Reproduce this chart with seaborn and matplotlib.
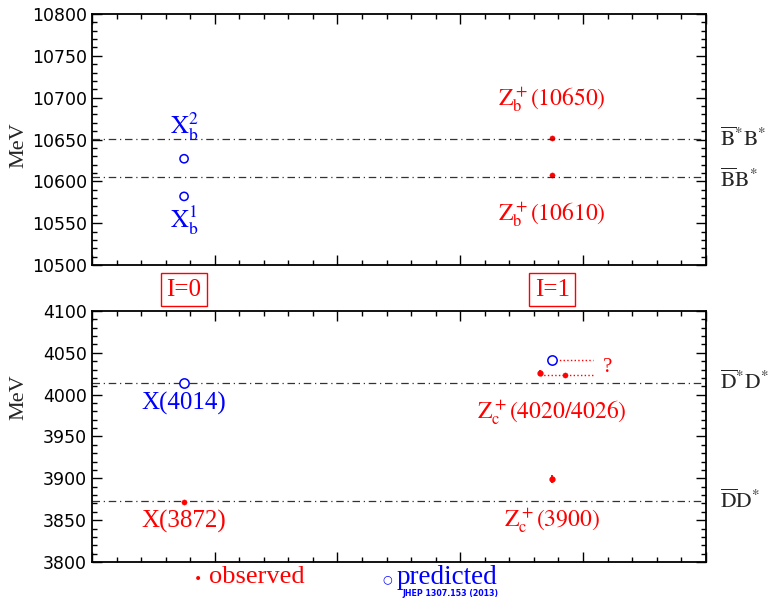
import seaborn as sns
import matplotlib.pyplot as plt
from matplotlib.ticker import MultipleLocator

# bottomonium-like sector (top panel)
b_thresholds = [10650.5, 10604.6]
b_thr_labels = [r'$\overline{\mathrm{B}}^{*}\mathrm{B}^{*}$', r'$\overline{\mathrm{B}}\mathrm{B}^{*}$']
b_pred_x = [0.75, 0.75]
b_pred_y = [10627, 10582]
b_obs_x = [3.75, 3.75]
b_obs_y = [10652, 10607.5]

# charmonium-like sector (bottom panel)
c_thresholds = [4014.3, 3872.5]
c_thr_labels = [r'$\overline{\mathrm{D}}^{*}\mathrm{D}^{*}$', r'$\overline{\mathrm{D}}\mathrm{D}^{*}$']
c_pred_x = [0.75, 3.75]
c_pred_y = [4014, 4041]
c_obs_x = [0.75, 3.85]
c_obs_y = [3872, 4023]
c_err_x = [3.65, 3.75]
c_err_y = [4026, 3899]
c_err = [4, 5]

RED = '#ff0000'
BLUE = '#0000ff'

sns.set_theme(style='ticks')
plt.rcParams['font.family'] = ['Liberation Serif', 'DejaVu Serif']
plt.rcParams['mathtext.fontset'] = 'stix'

fig = plt.figure(figsize=(7.7, 5.99), dpi=100)
ax1 = fig.add_axes([0.1195, 0.5576, 0.797, 0.419])
ax2 = fig.add_axes([0.1195, 0.0618, 0.797, 0.419])

for ax, lo, hi, ylab_pos in [(ax1, 10500, 10800, 0.478), (ax2, 3800, 4100, 0.657)]:
    ax.set_xlim(0, 5)
    ax.set_ylim(lo, hi)
    ax.xaxis.set_major_locator(MultipleLocator(1))
    ax.xaxis.set_minor_locator(MultipleLocator(0.2))
    ax.yaxis.set_major_locator(MultipleLocator(50))
    ax.yaxis.set_minor_locator(MultipleLocator(10))
    ax.tick_params(which='both', direction='in', top=True, right=True,
                   bottom=True, left=True, color='black')
    ax.tick_params(which='major', length=7, width=1)
    ax.tick_params(which='minor', length=3.5, width=1)
    ax.set_xticklabels([])
    for lab in ax.get_yticklabels():
        lab.set_fontfamily('DejaVu Sans')
        lab.set_fontsize(12.5)
        lab.set_color('black')
    for s in ax.spines.values():
        s.set_color('black')
        s.set_linewidth(1.3)
    ax.set_ylabel('MeV', fontsize=16)
    ax.yaxis.set_label_coords(-0.104, ylab_pos)

# top panel
for y, lab, dy in zip(b_thresholds, b_thr_labels, [0, -3]):
    ax1.axhline(y, color='#333333', ls='-.', lw=0.9, dashes=(6, 3, 1, 3))
    ax1.text(5.12, y + dy, lab, fontsize=15.5, va='center', ha='left')
sns.scatterplot(x=b_pred_x, y=b_pred_y, ax=ax1, marker='o', s=35,
                facecolor='none', edgecolor=BLUE, linewidth=1.1, legend=False)
sns.scatterplot(x=b_obs_x, y=b_obs_y, ax=ax1, marker='o', s=14,
                color=RED, edgecolor=RED, legend=False)
ax1.text(0.75, 10666, r'$\mathrm{X_b^2}$', color=BLUE, fontsize=18, ha='center', va='center')
ax1.text(0.75, 10554, r'$\mathrm{X_b^1}$', color=BLUE, fontsize=18, ha='center', va='center')
ax1.text(3.75, 10697, r'$\mathrm{Z_b^+(10650)}$', color=RED, fontsize=17, ha='center', va='center')
ax1.text(3.75, 10559, r'$\mathrm{Z_b^+(10610)}$', color=RED, fontsize=17, ha='center', va='center')

# isospin boxes
for xpos, txt in [(0.75, 'I=0'), (3.75, 'I=1')]:
    ax1.text(xpos, -0.098, txt, transform=ax1.get_xaxis_transform(), color=RED,
             fontsize=18, ha='center', va='center',
             bbox=dict(boxstyle='square,pad=0.22', fc='white', ec=RED, lw=1))

# bottom panel
for y, lab in zip(c_thresholds, c_thr_labels):
    ax2.axhline(y, color='#333333', ls='-.', lw=0.9, dashes=(6, 3, 1, 3))
    ax2.text(5.12, y, lab, fontsize=15.5, va='center', ha='left')
ax2.hlines(c_pred_y[1], c_pred_x[1], 4.08, color=RED, ls=':', lw=1)
ax2.hlines(c_obs_y[1], c_err_x[0], 4.08, color=RED, ls=':', lw=1)
ax2.errorbar(c_err_x, c_err_y, yerr=c_err, fmt='o', ms=3.5, color=RED, elinewidth=1.3, capsize=0)
sns.scatterplot(x=c_pred_x, y=c_pred_y, ax=ax2, marker='o', s=45,
                facecolor='white', edgecolor=BLUE, linewidth=1.1, legend=False, zorder=5)
sns.scatterplot(x=c_obs_x, y=c_obs_y, ax=ax2, marker='o', s=14,
                color=RED, edgecolor=RED, legend=False, zorder=5)
ax2.text(4.2, 4032, '?', color=RED, fontsize=15, ha='center', va='center')
ax2.text(0.75, 3989, 'X(4014)', color=BLUE, fontsize=18, ha='center', va='center')
ax2.text(0.75, 3849, 'X(3872)', color=RED, fontsize=18, ha='center', va='center')
ax2.text(3.75, 3978, r'$\mathrm{Z_c^+(4020/4026)}$', color=RED, fontsize=17, ha='center', va='center')
ax2.text(3.75, 3849, r'$\mathrm{Z_c^+(3900)}$', color=RED, fontsize=17, ha='center', va='center')

# legend below the lower panel
fig.text(198 / 770, 1 - 579 / 599, '•', color=RED, fontsize=10, ha='center', va='center',
         family='DejaVu Sans')
fig.text(209 / 770, 1 - 577 / 599, 'observed', color=RED, fontsize=19, ha='left', va='center')
fig.text(387 / 770, 1 - 579 / 599, '○', color=BLUE, fontsize=8, ha='center', va='center',
         family='DejaVu Sans')
fig.text(397 / 770, 1 - 577 / 599, 'predicted', color=BLUE, fontsize=19.5, ha='left', va='center')
fig.text(450 / 770, 1 - 593 / 599, 'JHEP 1307.153 (2013)', color=BLUE, fontsize=5.7,
         ha='center', va='center', fontweight='bold', family='DejaVu Sans')

fig.savefig('out.png', dpi=100)
